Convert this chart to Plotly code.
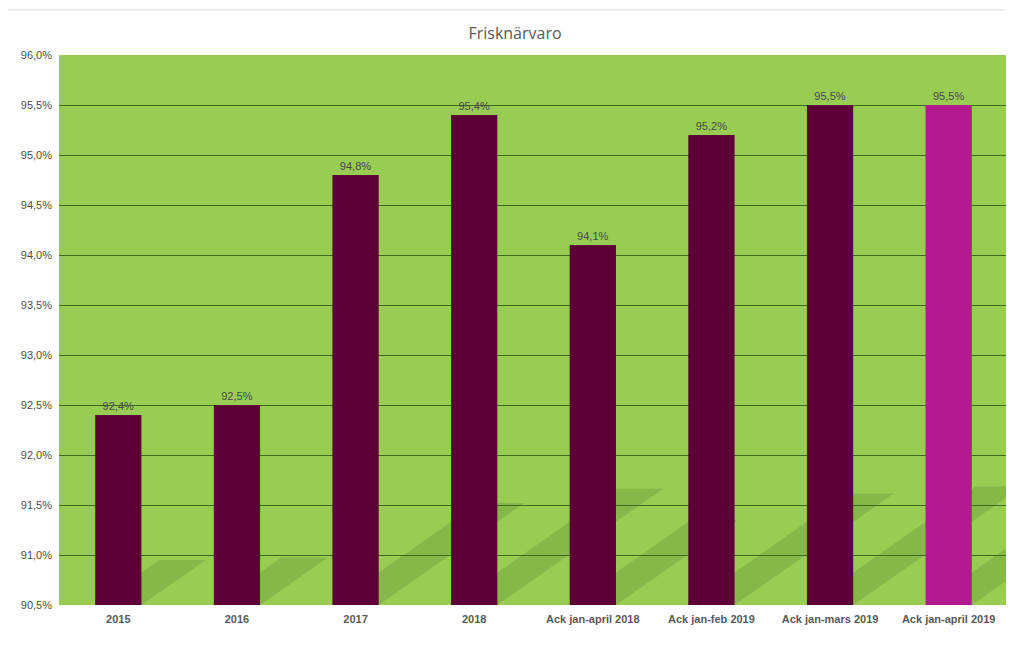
import plotly.graph_objects as go

categories = ["2015", "2016", "2017", "2018", "Ack jan-april 2018",
              "Ack jan-feb 2019", "Ack jan-mars 2019", "Ack jan-april 2019"]
values = [92.4, 92.5, 94.8, 95.4, 94.1, 95.2, 95.5, 95.5]
bar_colors = ["#5E0038"] * 7 + ["#B41A90"]
tick_vals = [90.5, 91.0, 91.5, 92.0, 92.5, 93.0, 93.5, 94.0, 94.5, 95.0, 95.5, 96.0]
tick_text = [f"{v:.1f}%".replace(".", ",") for v in tick_vals]
labels = [f"{v:.1f}%".replace(".", ",") for v in values]

BASE = 90.5
BARGAP = 0.61
HALF = (1 - BARGAP) / 2

fig = go.Figure(go.Bar(
    x=categories, y=values, marker=dict(color=bar_colors, line=dict(width=0)),
    text=labels, textposition="outside", cliponaxis=False,
    textfont=dict(family="Liberation Sans Narrow, Arial Narrow, sans-serif", size=11, color="#4A4A4A"),
))

# decorative floor shadows cast by each bar (derived from bar height)
for i, v in enumerate(values):
    h = v - BASE
    dx = 0.285 * h
    dy = 0.237 * h
    x0, x1 = i - HALF, i + HALF
    path = (f"M {x0},{BASE} L {x1},{BASE} L {x1 + dx},{BASE + dy} "
            f"L {x0 + dx},{BASE + dy} Z")
    fig.add_shape(type="path", path=path, xref="x", yref="y", layer="below",
                  fillcolor="rgba(70,100,40,0.2)", line=dict(width=0))

fig.update_layout(
    width=1014, height=667,
    margin=dict(l=51, r=14, t=47, b=70),
    paper_bgcolor="white", plot_bgcolor="#98CC52",
    bargap=BARGAP,
    showlegend=False,
    title=dict(text="Frisknärvaro", x=0.5, xanchor="center", y=0.9625, yanchor="middle",
               font=dict(family="Open Sans, sans-serif", size=16, color="#595959")),
    font=dict(family="Liberation Sans Narrow, Arial Narrow, sans-serif"),
)
fig.update_yaxes(range=[90.5, 96.0], tickvals=tick_vals, ticktext=tick_text,
                 showgrid=True, gridcolor="#3E6B1E", gridwidth=1, zeroline=False,
                 tickfont=dict(size=11, color="#4D4D4D"), ticks="", ticklabelstandoff=6)
fig.update_xaxes(range=[-0.5, 7.5], tickfont=dict(size=11, color="#595959", weight="bold"),
                 ticks="", showline=False, ticklabelstandoff=6)
fig.add_shape(type="line", xref="paper", yref="paper", x0=-0.057, x1=1.006, y0=1.082, y1=1.082,
              line=dict(color="#DDDDDD", width=1))
fig.write_html("out.html")
